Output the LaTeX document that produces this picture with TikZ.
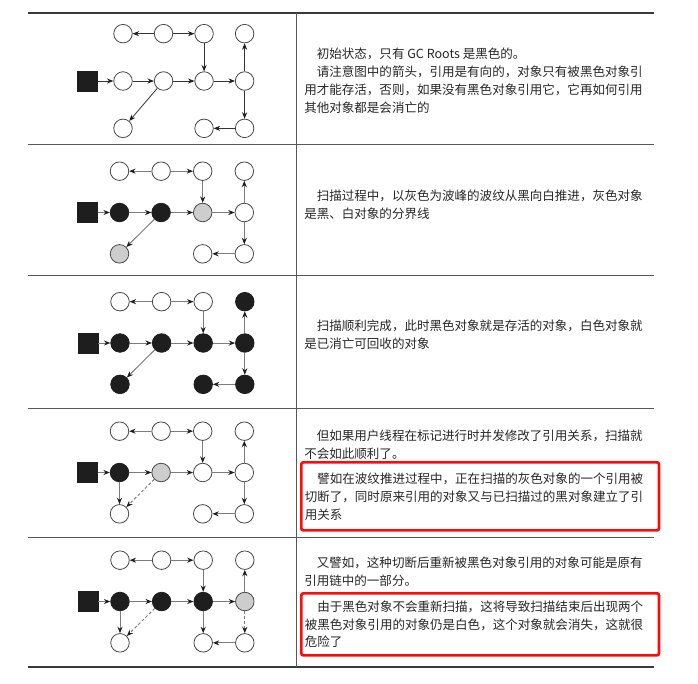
\documentclass[tikz,border=0pt]{standalone}
\usepackage{fontspec}
\usepackage{xcolor}
\usetikzlibrary{arrows.meta, positioning}
\newfontfamily\cjk{Noto Sans CJK SC}
\definecolor{ink}{HTML}{262626}
\definecolor{coal}{HTML}{1E1E1E}
\definecolor{ash}{HTML}{CDCDCD}
\definecolor{wire}{HTML}{7C7C7C}
\definecolor{rulegray}{HTML}{3A3A3A}
\definecolor{alert}{HTML}{FF0A0A}
\tikzset{
  obj/.style={circle, draw=ink!85, line width=0.6pt, fill=white,
    minimum size=13.9pt, inner sep=0pt},
  blackobj/.style={obj, fill=coal, draw=coal},
  grayobj/.style={obj, fill=ash},
  rootbox/.style={rectangle, fill=coal, draw=coal, minimum size=15pt, inner sep=0pt},
  ref/.style={-{Stealth[length=4.8pt, width=3.8pt, color=coal]}, line width=0.75pt, draw=wire},
  cutref/.style={ref, dash pattern=on 2.2pt off 1.6pt},
  % colour hooks for single objects, set again in each row
  o-t1/.style={}, o-t2/.style={}, o-t3/.style={}, o-t4/.style={},
  o-m1/.style={}, o-m2/.style={}, o-m3/.style={}, o-m4/.style={},
  o-b1/.style={}, o-b3/.style={}, o-b4/.style={},
  note/.style={font=\cjk\fontsize{9.4}{13.4}\selectfont, text=ink, align=left,
    anchor=north west, inner sep=0pt},
  redbox/.style={note, draw=alert, line width=2pt, rounded corners=1.5pt,
    text width=263pt, inner xsep=2.6pt, inner ysep=0pt},
  thickrule/.style={line width=1.4pt, draw=rulegray},
  thinrule/.style={line width=0.7pt, draw=rulegray!85},
}
% the object graph of one row, #1 = gap between root and first object
\newcommand{\objgraph}[1]{%
  \node[obj, o-m1] (m1) at (0,0) {};
  \node[obj, o-m2, right=of m1] (m2) {};
  \node[obj, o-m3, right=of m2] (m3) {};
  \node[obj, o-m4, right=of m3] (m4) {};
  \node[obj, o-t1, above=of m1] (t1) {};
  \node[obj, o-t2, above=of m2] (t2) {};
  \node[obj, o-t3, above=of m3] (t3) {};
  \node[obj, o-t4, above=of m4] (t4) {};
  \node[obj, o-b1, below=of m1] (b1) {};
  \node[obj, o-b3, below=of m3] (b3) {};
  \node[obj, o-b4, below=of m4] (b4) {};
  \node[rootbox, left=#1 of m1] (root) {};
  \draw[ref] (t2) -- (t1);
  \draw[ref] (t2) -- (t3);
  \draw[ref] (t3) -- (m3);
  \draw[ref] (root) -- (m1);
  \draw[ref] (m1) -- (m2);
  \draw[ref] (m2) -- (m3);
  \draw[ref] (m3) -- (m4);
  \draw[ref] (m4) -- (t4);
  \draw[ref] (b4) -- (b3);
}

\begin{document}
\begin{tikzpicture}[x=0.75pt, y=-0.75pt]
  \useasboundingbox (0,0) rectangle (698,683);

  % table
  \draw[thickrule] (28,13) -- (654,13);
  \draw[thinrule] (28,144) -- (654,144);
  \draw[thinrule] (28,275) -- (654,275);
  \draw[thinrule] (28,408) -- (654,408);
  \draw[thinrule] (28,537) -- (654,537);
  \draw[thickrule] (28,667) -- (654,667);
  \draw[thinrule] (296,13) -- (296,667);

  % row 1: start
  \begin{scope}[shift={(123,81)}, name prefix=r1-, node distance=21pt and 15.9pt,
      ref/.append style={draw=coal!90, line width=0.6pt}]
    \objgraph{11.8pt}
    \draw[ref] (m2) -- (b1);
    \draw[ref] (m4) -- (b4);
  \end{scope}

  % row 2: scanning
  \begin{scope}[shift={(119.5,212.5)}, name prefix=r2-, node distance=16.5pt and 16.7pt,
      o-m1/.style=blackobj, o-m2/.style=blackobj, o-m3/.style=grayobj, o-b1/.style=grayobj]
    \objgraph{9.2pt}
    \draw[ref] (m2) -- (b1);
    \draw[ref] (m4) -- (b4);
  \end{scope}

  % row 3: done
  \begin{scope}[shift={(120,343)}, name prefix=r3-, node distance=16.5pt and 16.7pt,
      o-m1/.style=blackobj, o-m2/.style=blackobj, o-m3/.style=blackobj, o-m4/.style=blackobj,
      o-t4/.style=blackobj, o-b1/.style=blackobj, o-b3/.style=blackobj, o-b4/.style=blackobj]
    \objgraph{9.2pt}
    \draw[ref] (m2) -- (b1);
    \draw[ref] (m4) -- (b4);
  \end{scope}

  % row 4: cut while scanning
  \begin{scope}[shift={(119.5,472.5)}, name prefix=r4-, node distance=16.5pt and 16.7pt,
      o-m1/.style=blackobj, o-m2/.style=grayobj]
    \objgraph{9.2pt}
    \draw[ref] (m1) -- (b1);
    \draw[cutref] (m2) -- (b1);
    \draw[ref] (m4) -- (b4);
  \end{scope}

  % row 5: cut inside the chain
  \begin{scope}[shift={(120,601.5)}, name prefix=r5-, node distance=16.5pt and 16.7pt,
      o-m1/.style=blackobj, o-m2/.style=blackobj, o-m3/.style=blackobj, o-m4/.style=grayobj]
    \objgraph{9.2pt}
    \draw[ref] (m1) -- (b1);
    \draw[cutref] (m2) -- (b1);
    \draw[ref] (m3) -- (b3);
    \draw[cutref] (m4) -- (b4);
  \end{scope}

  % texts
  \node[note] (txt1) at (304,48)
    {\hspace*{1em}初始状态，只有 GC Roots 是黑色的。\\
     \hspace*{1em}请注意图中的箭头，引用是有向的，对象只有被黑色对象引\\
     用才能存活，否则，如果没有黑色对象引用它，它再如何引用\\
     其他对象都是会消亡的};
  \node[note] (txt2) at (304,190)
    {\hspace*{1em}扫描过程中，以灰色为波峰的波纹从黑向白推进，灰色对象\\
     是黑、白对象的分界线};
  \node[note] (txt3) at (304,320)
    {\hspace*{1em}扫描顺利完成，此时黑色对象就是存活的对象，白色对象就\\
     是已消亡可回收的对象};
  \node[note] (txt4) at (304,430)
    {\hspace*{1em}但如果用户线程在标记进行时并发修改了引用关系，扫描就\\
     不会如此顺利了。};
  \node[redbox, minimum height=51pt] (key4) at (300,461)
    {\hspace*{1em}譬如在波纹推进过程中，正在扫描的灰色对象的一个引用被\\
     切断了，同时原来引用的对象又与已扫描过的黑对象建立了引\\
     用关系};
  \node[note] (txt5) at (304,557)
    {\hspace*{1em}又譬如，这种切断后重新被黑色对象引用的对象可能是原有\\
     引用链中的一部分。};
  \node[redbox, minimum height=46.5pt] (key5) at (300,592)
    {\hspace*{1em}由于黑色对象不会重新扫描，这将导致扫描结束后出现两个\\
     被黑色对象引用的对象仍是白色，这个对象就会消失，这就很\\
     危险了};
\end{tikzpicture}
\end{document}
